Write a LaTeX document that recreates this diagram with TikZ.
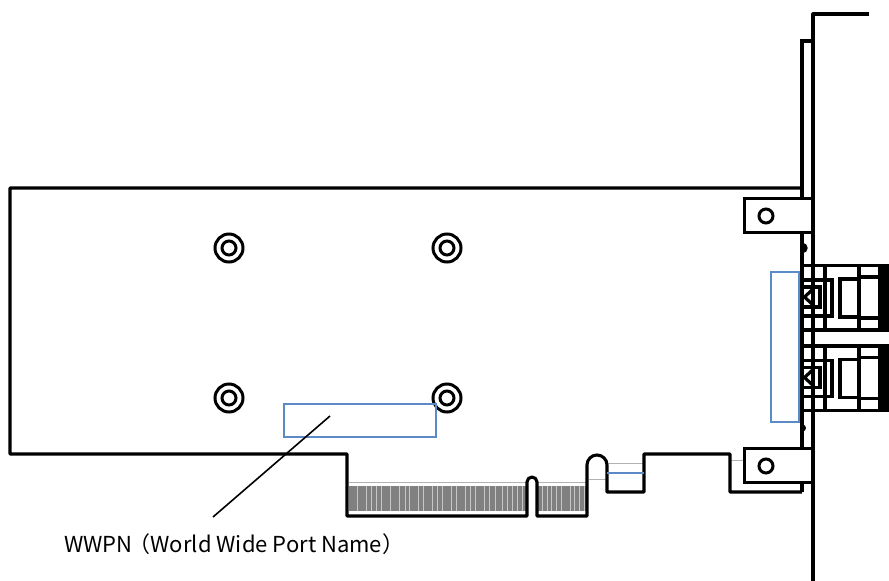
\documentclass[tikz,border=0pt]{standalone}
\usepackage{fontspec}
\setmainfont{Noto Sans CJK JP}
\begin{document}
\begin{tikzpicture}[x=1pt,y=-1pt]
    % size of the mounting holes
    \def\ro{14pt}
    \def\ri{7pt}
    % node style definition
    \tikzstyle{outline} = [draw=black, line width=3.1pt, line join=round];
    \tikzstyle{heavy} = [draw=black, line width=3.8pt];
    \tikzstyle{thin part} = [draw=black, line width=3.2pt];
    \tikzstyle{hidden} = [draw=black!30, line width=0.8pt];
    \tikzstyle{stripe} = [draw=black!22, line width=0.8pt];
    \tikzstyle{bracket} = [
    	draw, fill=white, rectangle, line width=3pt, inner sep=0pt,
    	minimum width=68pt, minimum height=34pt ];
    \tikzstyle{marker} = [
    	draw=markblue, rectangle, line width=1.3pt, inner sep=0pt ];
    \tikzstyle{plain} = [draw=none,fill=none,inner sep=0pt];
    \definecolor{markblue}{HTML}{5B8AC6}
    \useasboundingbox (0,0) rectangle (889,581);
    % gold fingers
    \fill[black!50] (349,486) rectangle (526,511);
    \fill[black!50] (537,486) rectangle (586,511);
    \foreach \sx in {357,366,371,376,381,390,399,405,409,418,423,432,437,442,451,456,465,470,475,484,489,495,502,507,512,517,522}
    	\draw[stripe] (\sx,486) -- (\sx,511);
    \foreach \sx in {542,547,551,556,561,570,574,579,584}
    	\draw[stripe] (\sx,486) -- (\sx,511);
    % thin hidden edges
    \draw[hidden] (349,482) -- (526,482);
    \draw[hidden] (537,482) -- (586,482);
    \draw[hidden] (589,479) -- (606,479);
    \draw[hidden] (608,463) -- (644,463);
    \draw[hidden] (730,460) -- (745,460);
    % card outline
    \draw[outline] (802,188) -- (10,188) -- (10,454) -- (347,454) -- (347,516)
    	-- (527,516) -- (527,482) arc[start angle=180,end angle=0,radius=5pt]
    	-- (537,516) -- (587,516) -- (587,465) arc[start angle=180,end angle=0,radius=10pt]
    	-- (607,492) -- (644,492) -- (644,454) -- (730,454) -- (730,492) -- (802,492);
    \draw[draw=markblue, line width=1.3pt] (607,473) -- (644,473);
    % panel
    \draw[thin part] (802,492) -- (802,41) -- (813,41);
    \draw[outline] (869,14) -- (813,14) -- (813,581);
    % panel clips
    \draw[thin part] (802.5,244.5) arc[start angle=90,end angle=-90,radius=3.5pt];
    \fill (802.5,424.5) arc[start angle=90,end angle=-90,radius=3.5pt] -- cycle;
    % brackets
    \node[bracket] (bracket top) at (778,215) {};
    \node[bracket] (bracket low) at (778,465) {};
    \draw[line width=3pt] (766,216) circle (7pt);
    \draw[line width=3pt] (766,466) circle (7pt);
    % mounting holes
    \foreach \hx/\hy in {229/248,447/248,229/398,447/398}
    {
    	\draw[line width=3pt] (\hx,\hy) circle (\ro);
    	\draw[line width=3pt] (\hx,\hy) circle (\ri);
    }
    % connectors
    \foreach \oy in {0,80.5}
    {
      \begin{scope}[shift={(0,\oy)}]
    	\fill (878,265) rectangle (889,330);
    	\draw[heavy] (802,265.5) -- (889,265.5) (802,330) -- (889,330);
    	\draw[heavy] (825,265) -- (825,330);
    	\draw[heavy] (859,265) -- (859,330);
    	\draw[thin part] (859,277) -- (878,277) (859,318) -- (878,318);
    	\draw[thin part] (802,280) -- (832,280) -- (832,316) -- (802,316);
    	\draw[thin part] (840,279) rectangle (859,317);
    	\draw[thin part] (802,287) -- (820,287) -- (820,307) -- (802,307);
    	\draw[thin part] (812,290) -- (804.5,297) -- (812,304);
      \end{scope}
    }
    \draw[outline] (813,180) -- (813,581);
    % marked areas
    \node[marker, minimum width=152pt, minimum height=33pt] (wwpn top) at (360,420.5) {};
    \node[marker, minimum width=28pt, minimum height=150pt] (wwpn side) at (785,347) {};
    % label with its leader
    \node[plain, anchor=west, font=\fontsize{22}{26}\selectfont] (wwpn label) at (64,544) {WWPN\hspace{-4pt}（World Wide Port Name）};
    \coordinate (leader top) at (330,416);
    \coordinate (leader low) at (213,517);
    \draw[line width=1.6pt] (leader top) -- (leader low);
  \end{tikzpicture}
\end{document}
